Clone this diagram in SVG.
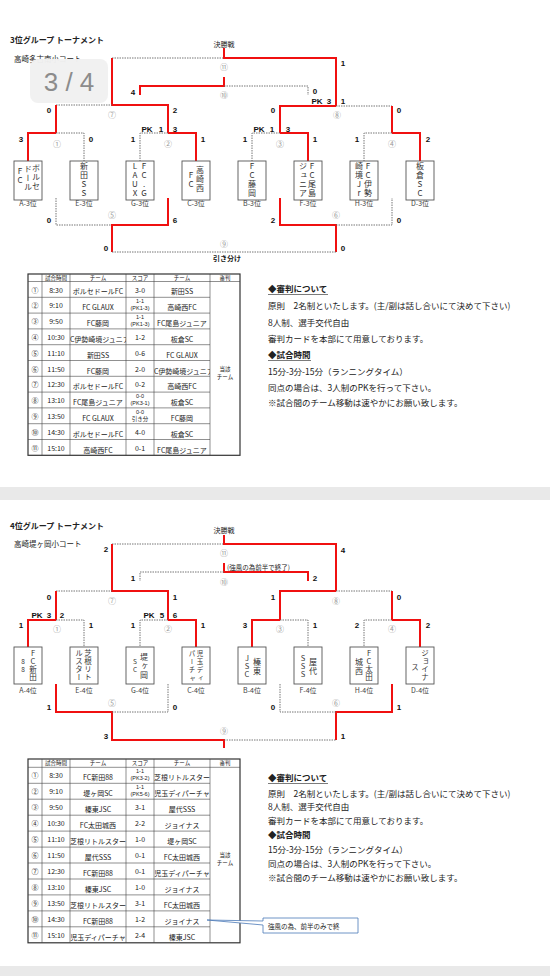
<svg xmlns="http://www.w3.org/2000/svg" width="550" height="976" viewBox="0 0 550 976">
<style>
.r{stroke:#f01010;stroke-width:2;fill:none}
.d{stroke:#666;stroke-width:0.9;stroke-dasharray:1.5 1;fill:none}
.n{font-family:"Liberation Sans",Arial,sans-serif;font-weight:bold;font-size:8px;fill:#111;text-anchor:middle}
.c{font-family:"Noto Sans CJK JP",sans-serif;font-size:8px;fill:#999;text-anchor:middle}
.j{font-family:"Noto Sans CJK JP",sans-serif;fill:#222}
.bx{fill:#fff;stroke:#555;stroke-width:0.9}
.vt{font-family:"Noto Sans CJK JP",sans-serif;font-size:8px;fill:#333;writing-mode:vertical-rl;text-orientation:upright;letter-spacing:1px}
.vs{font-family:"Noto Sans CJK JP",sans-serif;font-size:7.5px;fill:#333;writing-mode:vertical-rl;text-orientation:upright;letter-spacing:0.8px}
.vx{font-family:"Noto Sans CJK JP",sans-serif;font-size:6.5px;fill:#333;writing-mode:vertical-rl;text-orientation:upright;letter-spacing:1.8px}
.lb{font-family:"Noto Sans CJK JP",sans-serif;font-size:7px;fill:#444;text-anchor:middle}
.tl{stroke:#444;stroke-width:0.6}
.tt{font-family:"Noto Sans CJK JP",sans-serif;font-size:7px;fill:#222;text-anchor:middle}
.th{font-family:"Noto Sans CJK JP",sans-serif;font-size:5.5px;fill:#222;text-anchor:middle}
.ts{font-family:"Liberation Sans","Noto Sans CJK JP",sans-serif;font-size:5.5px;fill:#222;text-anchor:middle}
.ru{font-family:"Noto Sans CJK JP",sans-serif;font-size:8.5px;fill:#222}
</style>
<defs>
<clipPath id="tc"><rect x="70" y="0" width="56" height="976"/><rect x="154" y="0" width="56" height="976"/></clipPath>
</defs>
<rect x="0" y="0" width="550" height="976" fill="#fff"/>
<rect x="0" y="487" width="550" height="13" fill="#e9e9e9"/>
<rect x="0" y="966" width="550" height="10" fill="#e9e9e9"/>

<!-- ===== PAGE 3 ===== -->
<text class="j" x="10" y="43" font-size="8" font-weight="bold">3位グループ  トーナメント</text>
<text class="j" x="14" y="62" font-size="7.5">高崎多古南小コート</text>
<text class="j" x="224" y="47" font-size="7" text-anchor="middle">決勝戦</text>

<g id="connectors-top">
<path class="d" d="M112,58 H224"/>
<path class="r" d="M224,48 V58 H336 V106"/>
<path class="r" d="M112,58 V105 H168 V133"/>
<path class="r" d="M224,77 V86 H140 V95"/>
<path class="d" d="M224,86 H308 V95"/>
<path class="d" d="M56,105 H112"/>
<path class="r" d="M56,105 V133"/>
<path class="r" d="M336,106 H280 V133"/>
<path class="d" d="M336,106 H392"/>
<path class="r" d="M392,106 V133"/>
<path class="r" d="M56,133 H28 V161"/>
<path class="d" d="M56,133 H84 V161"/>
<path class="r" d="M168,133 H196 V161"/>
<path class="d" d="M168,133 H140 V161"/>
<path class="r" d="M280,133 H308 V161"/>
<path class="d" d="M280,133 H252 V161"/>
<path class="r" d="M392,133 H420 V161"/>
<path class="d" d="M392,133 H364 V161"/>
<path class="d" d="M56,198 V225 H112"/>
<path class="r" d="M168,198 V225 H112 V252"/>
<path class="r" d="M280,198 V225 H336 V252"/>
<path class="d" d="M336,225 H392 V198"/>
<path class="d" d="M112,252 H336"/>
</g>

<g id="labels-top">
<text class="n" x="343" y="66">1</text>
<text class="n" x="133" y="95">4</text>
<text class="n" x="315" y="94">0</text>
<text class="n" x="49" y="113">0</text>
<text class="n" x="175" y="113">2</text>
<text class="n" x="273" y="113">0</text>
<text class="n" x="399" y="113">0</text>
<text class="n" x="317" y="104">PK</text>
<text class="n" x="329" y="104">3</text>
<text class="n" x="343" y="104">1</text>
<text class="n" x="147" y="132">PK</text>
<text class="n" x="161" y="132">1</text>
<text class="n" x="175" y="132">3</text>
<text class="n" x="259" y="132">PK</text>
<text class="n" x="272" y="132">1</text>
<text class="n" x="288" y="132">3</text>
<text class="n" x="21" y="142">3</text>
<text class="n" x="91" y="142">0</text>
<text class="n" x="133" y="142">1</text>
<text class="n" x="203" y="142">1</text>
<text class="n" x="245" y="142">1</text>
<text class="n" x="315" y="142">1</text>
<text class="n" x="357" y="142">1</text>
<text class="n" x="428" y="142">2</text>
<text class="n" x="49" y="223">0</text>
<text class="n" x="175" y="223">6</text>
<text class="n" x="273" y="223">2</text>
<text class="n" x="399" y="223">0</text>
<text class="n" x="106" y="251">0</text>
<text class="n" x="343" y="251">0</text>
<text class="j" x="227" y="261" font-size="7" font-weight="bold" text-anchor="middle">引き分け</text>
<text class="c" x="224" y="70">⑪</text>
<text class="c" x="224" y="98">⑩</text>
<text class="c" x="112" y="118">⑦</text>
<text class="c" x="337" y="118">⑧</text>
<text class="c" x="57" y="147">①</text>
<text class="c" x="168" y="147">②</text>
<text class="c" x="280" y="147">③</text>
<text class="c" x="392" y="147">④</text>
<text class="c" x="112" y="218">⑤</text>
<text class="c" x="336" y="218">⑥</text>
<text class="c" x="224" y="247">⑨</text>
</g>

<g id="team-A3"><rect class="bx" x="14" y="161" width="28" height="39"/>
<text class="vt" x="36" y="164">ボルセ</text><text class="vt" x="28" y="165">ドール</text><text class="vt" x="20" y="167">FC</text>
<text class="lb" x="28" y="206">A-3位</text></g>
<g id="team-E3"><rect class="bx" x="70" y="161" width="28" height="39"/>
<text class="vt" x="84" y="162">新田SS</text>
<text class="lb" x="84" y="206">E-3位</text></g>
<g id="team-G3"><rect class="bx" x="126" y="161" width="28" height="39"/>
<text class="vt" x="144" y="162">FC.G</text><text class="vt" x="135" y="162">LAUX</text>
<text class="lb" x="140" y="206">G-3位</text></g>
<g id="team-C3"><rect class="bx" x="182" y="161" width="28" height="39"/>
<text class="vt" x="200" y="166">高崎西</text><text class="vt" x="191" y="171">FC</text>
<text class="lb" x="196" y="206">C-3位</text></g>
<g id="team-B3"><rect class="bx" x="238" y="161" width="28" height="39"/>
<text class="vt" x="252" y="162">FC藤岡</text>
<text class="lb" x="252" y="206">B-3位</text></g>
<g id="team-F3"><rect class="bx" x="294" y="161" width="28" height="39"/>
<text class="vt" x="312" y="162">FC尾島</text><text class="vt" x="303" y="162">ジュニア</text>
<text class="lb" x="308" y="206">F-3位</text></g>
<g id="team-H3"><rect class="bx" x="350" y="161" width="28" height="39"/>
<text class="vt" x="368" y="162">FC伊勢</text><text class="vt" x="359" y="162">崎境Jr</text>
<text class="lb" x="364" y="206">H-3位</text></g>
<g id="team-D3"><rect class="bx" x="406" y="161" width="28" height="39"/>
<text class="vt" x="420" y="162">板倉SC</text>
<text class="lb" x="420" y="206">D-3位</text></g>

<g id="badge">
<rect x="30" y="59" width="78" height="44" rx="8" fill="#f1f1f1" opacity="0.97"/>
<text x="69" y="91" font-family="Liberation Sans,Arial,sans-serif" font-size="26" fill="#8c8c8c" text-anchor="middle">3 / 4</text>
</g>

<g id="table-top">
<rect x="28" y="274" width="212" height="181.3" fill="#fff" stroke="#333" stroke-width="1.2"/>
<path class="tl" d="M28,281.5 H240 M28,297.3 H210 M28,313.1 H210 M28,328.9 H210 M28,344.7 H210 M28,360.5 H210 M28,376.3 H210 M28,392.1 H210 M28,407.9 H210 M28,423.7 H210 M28,439.5 H210 M42,274 V455.3 M70,274 V455.3 M126,274 V455.3 M154,274 V455.3 M210,274 V455.3"/>
<text class="th" x="56" y="279.8">試合時間</text><text class="th" x="98" y="279.8">チーム</text><text class="th" x="140" y="279.8">スコア</text><text class="th" x="182" y="279.8">チーム</text><text class="th" x="225" y="279.8">審判</text>
<g class="tt">
<text x="35" y="292.5">①</text><text x="56" y="292.5">8:30</text><text x="140" y="292.5">3-0</text>
<text x="35" y="308.3">②</text><text x="56" y="308.3">9:10</text>
<text x="35" y="324.1">③</text><text x="56" y="324.1">9:50</text>
<text x="35" y="339.9">④</text><text x="56" y="339.9">10:30</text><text x="140" y="339.9">1-2</text>
<text x="35" y="355.7">⑤</text><text x="56" y="355.7">11:10</text><text x="140" y="355.7">0-6</text>
<text x="35" y="371.5">⑥</text><text x="56" y="371.5">11:50</text><text x="140" y="371.5">2-0</text>
<text x="35" y="387.3">⑦</text><text x="56" y="387.3">12:30</text><text x="140" y="387.3">0-2</text>
<text x="35" y="403.1">⑧</text><text x="56" y="403.1">13:10</text>
<text x="35" y="418.9">⑨</text><text x="56" y="418.9">13:50</text>
<text x="35" y="434.7">⑩</text><text x="56" y="434.7">14:30</text><text x="140" y="434.7">4-0</text>
<text x="35" y="450.5">⑪</text><text x="56" y="450.5">15:10</text><text x="140" y="450.5">0-1</text>
</g>
<g class="ts">
<text x="140" y="303">1-1</text><text x="140" y="310">(PK1-3)</text>
<text x="140" y="318.8">1-1</text><text x="140" y="325.8">(PK1-3)</text>
<text x="140" y="397.8">0-0</text><text x="140" y="404.8">(PK3-1)</text>
<text x="140" y="413.6">0-0</text><text x="140" y="420.6">引き分</text>
</g>
<text class="th" x="225" y="371">当該</text><text class="th" x="225" y="379">チーム</text>
<g class="tt" clip-path="url(#tc)">
<text x="98" y="294">ボルセドールFC</text><text x="182" y="294">新田SS</text>
<text x="98" y="310">FC GLAUX</text><text x="182" y="310">高崎西FC</text>
<text x="98" y="326">FC藤岡</text><text x="182" y="326">FC尾島ジュニア</text>
<text x="98" y="342">FC伊勢崎境ジュニア</text><text x="182" y="342">板倉SC</text>
<text x="98" y="357.7">新田SS</text><text x="182" y="357.7">FC GLAUX</text>
<text x="98" y="373.5">FC藤岡</text><text x="182" y="373.5">FC伊勢崎境ジュニア</text>
<text x="98" y="389.3">ボルセドールFC</text><text x="182" y="389.3">高崎西FC</text>
<text x="98" y="405.1">FC尾島ジュニア</text><text x="182" y="405.1">板倉SC</text>
<text x="98" y="420.9">FC GLAUX</text><text x="182" y="420.9">FC藤岡</text>
<text x="98" y="436.7">ボルセドールFC</text><text x="182" y="436.7">板倉SC</text>
<text x="98" y="452.5">高崎西FC</text><text x="182" y="452.5">FC尾島ジュニア</text>
</g>
</g>

<g id="rules-top">
<text class="ru" x="268" y="292" font-weight="bold">◆審判について</text>
<line x1="268" y1="294.5" x2="328" y2="294.5" stroke="#222" stroke-width="0.6"/>
<text class="ru" x="268" y="308.5">原則　2名制といたします。(主/副は話し合いにて決めて下さい)</text>
<text class="ru" x="268" y="325.5">8人制、選手交代自由</text>
<text class="ru" x="268" y="341.5">審判カードを本部にて用意しております。</text>
<text class="ru" x="268" y="358" font-weight="bold">◆試合時間</text>
<line x1="268" y1="360.5" x2="311" y2="360.5" stroke="#222" stroke-width="0.6"/>
<text class="ru" x="268" y="374.5">15分-3分-15分（ランニングタイム）</text>
<text class="ru" x="268" y="390.5">同点の場合は、3人制のPKを行って下さい。</text>
<text class="ru" x="268" y="405.5">※試合間のチーム移動は速やかにお願い致します。</text>
</g>

<!-- ===== PAGE 4 ===== -->
<text class="j" x="10" y="529" font-size="8" font-weight="bold">4位グループ  トーナメント</text>
<text class="j" x="14" y="547" font-size="7.5">高崎堤ヶ岡小コート</text>
<text class="j" x="224" y="533" font-size="7" text-anchor="middle">決勝戦</text>

<g id="connectors-bottom">
<path class="d" d="M112,544 H224"/>
<path class="r" d="M224,535 V544 H336 V591"/>
<path class="r" d="M112,544 V591 H168 V620"/>
<path class="r" d="M224,563 V572 H308 V581"/>
<path class="d" d="M224,572 H140 V581"/>
<path class="d" d="M56,591 H112"/>
<path class="r" d="M56,591 V620"/>
<path class="r" d="M336,591 H280 V620"/>
<path class="d" d="M336,591 H392"/>
<path class="r" d="M392,591 V620"/>
<path class="r" d="M56,620 H28 V647"/>
<path class="d" d="M56,620 H84 V647"/>
<path class="r" d="M168,620 H196 V647"/>
<path class="d" d="M168,620 H140 V647"/>
<path class="r" d="M280,620 H252 V647"/>
<path class="d" d="M280,620 H308 V647"/>
<path class="r" d="M392,620 H420 V647"/>
<path class="d" d="M392,620 H364 V647"/>
<path class="r" d="M56,684 V712 H112 V740 H224 V748"/>
<path class="d" d="M112,712 H168 V684"/>
<path class="r" d="M392,684 V712 H336 V740"/>
<path class="d" d="M336,712 H280 V684"/>
<path class="d" d="M224,740 H336"/>
</g>

<g id="labels-bottom">
<text class="j" x="227" y="570" font-size="6.5" fill="#333">(強風の為前半で終了)</text>
<text class="n" x="106" y="552">2</text>
<text class="n" x="343" y="553">4</text>
<text class="n" x="133" y="581">1</text>
<text class="n" x="315" y="581">2</text>
<text class="n" x="49" y="600">0</text>
<text class="n" x="175" y="600">1</text>
<text class="n" x="273" y="600">1</text>
<text class="n" x="399" y="600">0</text>
<text class="n" x="37" y="618">PK</text>
<text class="n" x="49" y="618">3</text>
<text class="n" x="62" y="618">2</text>
<text class="n" x="149" y="618">PK</text>
<text class="n" x="162" y="618">5</text>
<text class="n" x="175" y="618">6</text>
<text class="n" x="21" y="628">1</text>
<text class="n" x="91" y="628">1</text>
<text class="n" x="133" y="628">1</text>
<text class="n" x="203" y="628">1</text>
<text class="n" x="245" y="628">3</text>
<text class="n" x="315" y="628">1</text>
<text class="n" x="357" y="628">2</text>
<text class="n" x="428" y="628">2</text>
<text class="n" x="49" y="710">1</text>
<text class="n" x="175" y="710">0</text>
<text class="n" x="273" y="710">0</text>
<text class="n" x="399" y="710">1</text>
<text class="n" x="106" y="739">3</text>
<text class="n" x="343" y="739">1</text>
<text class="c" x="224" y="556">⑪</text>
<text class="c" x="224" y="585">⑩</text>
<text class="c" x="112" y="604">⑦</text>
<text class="c" x="336" y="604">⑧</text>
<text class="c" x="57" y="632">①</text>
<text class="c" x="168" y="632">②</text>
<text class="c" x="280" y="632">③</text>
<text class="c" x="392" y="632">④</text>
<text class="c" x="112" y="706">⑤</text>
<text class="c" x="336" y="706">⑥</text>
<text class="c" x="224" y="734">⑨</text>
</g>

<g id="team-A4"><rect class="bx" x="14" y="647" width="28" height="37"/>
<text class="vs" x="33" y="649">FC新田</text><text class="vx" x="23" y="658">88</text>
<text class="lb" x="28" y="693">A-4位</text></g>
<g id="team-E4"><rect class="bx" x="70" y="647" width="28" height="37"/>
<text class="vs" x="88" y="649">芝根リト</text><text class="vs" x="79" y="649">ルスター</text>
<text class="lb" x="84" y="693">E-4位</text></g>
<g id="team-G4"><rect class="bx" x="126" y="647" width="28" height="37"/>
<text class="vt" x="144" y="653">堤ヶ岡</text><text class="vx" x="135" y="658">SC</text>
<text class="lb" x="140" y="693">G-4位</text></g>
<g id="team-C4"><rect class="bx" x="182" y="647" width="28" height="37"/>
<text class="vx" x="200" y="650">児玉ディ</text><text class="vx" x="192" y="650">パーチャ</text>
<text class="lb" x="196" y="693">C-4位</text></g>
<g id="team-B4"><rect class="bx" x="238" y="647" width="28" height="37"/>
<text class="vt" x="257" y="658">榛東</text><text class="vs" x="247" y="654">JSC</text>
<text class="lb" x="252" y="693">B-4位</text></g>
<g id="team-F4"><rect class="bx" x="294" y="647" width="28" height="37"/>
<text class="vt" x="313" y="658">屋代</text><text class="vs" x="303" y="654">SSS</text>
<text class="lb" x="308" y="693">F-4位</text></g>
<g id="team-H4"><rect class="bx" x="350" y="647" width="28" height="37"/>
<text class="vs" x="369" y="649">FC太田</text><text class="vt" x="359" y="658">城西</text>
<text class="lb" x="364" y="693">H-4位</text></g>
<g id="team-D4"><rect class="bx" x="406" y="647" width="28" height="37"/>
<text class="vs" x="425" y="649">ジョイナ</text><text class="vs" x="415" y="663">ス</text>
<text class="lb" x="420" y="693">D-4位</text></g>

<g id="table-bottom">
<rect x="28" y="759" width="212" height="183.8" fill="#fff" stroke="#333" stroke-width="1.2"/>
<path class="tl" d="M28,767.3 H240 M28,783.3 H210 M28,799.2 H210 M28,815.2 H210 M28,831.1 H210 M28,847.1 H210 M28,863 H210 M28,879 H210 M28,894.9 H210 M28,910.9 H210 M28,926.8 H210 M42,759 V942.8 M70,759 V942.8 M126,759 V942.8 M154,759 V942.8 M210,759 V942.8"/>
<text class="th" x="56" y="765.3">試合時間</text><text class="th" x="98" y="765.3">チーム</text><text class="th" x="140" y="765.3">スコア</text><text class="th" x="182" y="765.3">チーム</text><text class="th" x="225" y="765.3">審判</text>
<g class="tt">
<text x="35" y="778.3">①</text><text x="56" y="778.3">8:30</text>
<text x="35" y="794.3">②</text><text x="56" y="794.3">9:10</text>
<text x="35" y="810.2">③</text><text x="56" y="810.2">9:50</text><text x="140" y="810.2">3-1</text>
<text x="35" y="826.2">④</text><text x="56" y="826.2">10:30</text><text x="140" y="826.2">2-2</text>
<text x="35" y="842.1">⑤</text><text x="56" y="842.1">11:10</text><text x="140" y="842.1">1-0</text>
<text x="35" y="858.1">⑥</text><text x="56" y="858.1">11:50</text><text x="140" y="858.1">0-1</text>
<text x="35" y="874">⑦</text><text x="56" y="874">12:30</text><text x="140" y="874">0-1</text>
<text x="35" y="890">⑧</text><text x="56" y="890">13:10</text><text x="140" y="890">1-0</text>
<text x="35" y="905.9">⑨</text><text x="56" y="905.9">13:50</text><text x="140" y="905.9">3-1</text>
<text x="35" y="921.9">⑩</text><text x="56" y="921.9">14:30</text><text x="140" y="921.9">1-2</text>
<text x="35" y="937.8">⑪</text><text x="56" y="937.8">15:10</text><text x="140" y="937.8">2-4</text>
</g>
<g class="ts">
<text x="140" y="773">1-1</text><text x="140" y="780">(PK3-2)</text>
<text x="140" y="789">1-1</text><text x="140" y="796">(PK5-6)</text>
</g>
<text class="th" x="225" y="857">当該</text><text class="th" x="225" y="865">チーム</text>
<g class="tt" clip-path="url(#tc)">
<text x="98" y="780">FC新田88</text><text x="182" y="780">芝根リトルスター</text>
<text x="98" y="796">堤ヶ岡SC</text><text x="182" y="796">児玉ディパーチャ</text>
<text x="98" y="812">榛東JSC</text><text x="182" y="812">屋代SSS</text>
<text x="98" y="828">FC太田城西</text><text x="182" y="828">ジョイナス</text>
<text x="98" y="844">芝根リトルスター</text><text x="182" y="844">堤ヶ岡SC</text>
<text x="98" y="860">屋代SSS</text><text x="182" y="860">FC太田城西</text>
<text x="98" y="876">FC新田88</text><text x="182" y="876">児玉ディパーチャ</text>
<text x="98" y="892">榛東JSC</text><text x="182" y="892">ジョイナス</text>
<text x="98" y="908">芝根リトルスター</text><text x="182" y="908">FC太田城西</text>
<text x="98" y="924">FC新田88</text><text x="182" y="924">ジョイナス</text>
<text x="98" y="940">児玉ディパーチャ</text><text x="182" y="940">榛東JSC</text>
</g>
</g>

<g id="rules-bottom">
<text class="ru" x="268" y="781" font-weight="bold">◆審判について</text>
<line x1="268" y1="783.5" x2="328" y2="783.5" stroke="#222" stroke-width="0.6"/>
<text class="ru" x="268" y="796.5">原則　2名制といたします。(主/副は話し合いにて決めて下さい)</text>
<text class="ru" x="268" y="810">8人制、選手交代自由</text>
<text class="ru" x="268" y="824">審判カードを本部にて用意しております。</text>
<text class="ru" x="268" y="838" font-weight="bold">◆試合時間</text>
<text class="ru" x="268" y="852.5">15分-3分-15分（ランニングタイム）</text>
<text class="ru" x="268" y="866.5">同点の場合は、3人制のPKを行って下さい。</text>
<text class="ru" x="268" y="881">※試合間のチーム移動は速やかにお願い致します。</text>
</g>

<g id="callout">
<path d="M263,918 H358 V933 H263 V925 L207,920 L263,921 Z" fill="#fff" stroke="#4a78b8" stroke-width="0.8"/>
<text class="j" x="268" y="929" font-size="6.5">強風の為、前半のみで終</text>
</g>
</svg>
